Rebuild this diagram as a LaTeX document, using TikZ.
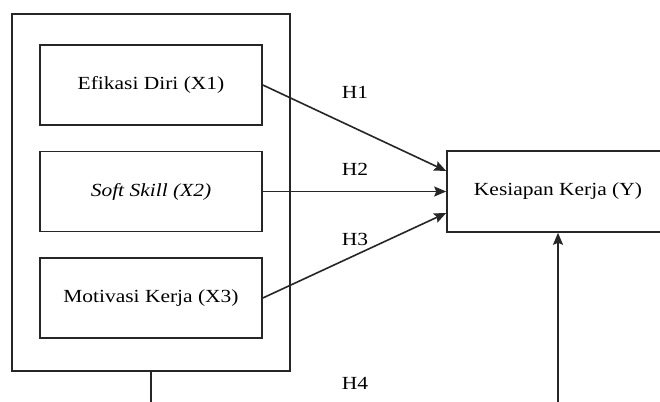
\documentclass[tikz,border=0pt]{standalone}
\usepackage{fontspec}
\setmainfont{Liberation Serif}
\usetikzlibrary{arrows.meta}
\tikzset{
  ln/.style={draw=black!85, line width=1.6pt},
  box/.style={ln, rectangle, minimum width=222pt, minimum height=80pt, inner sep=0pt, font=\fontsize{18.5}{20}\selectfont},
  lbl/.style={font=\fontsize{18.5}{20}\selectfont, inner sep=0pt},
  arr/.style={ln, -{Stealth[length=12pt,width=10pt,inset=2pt]}}
}
\newcommand{\widetxt}[1]{\scalebox{1.16}[1]{#1}}
\begin{document}
\begin{tikzpicture}[x=1pt,y=-1pt]
\clip (0,0) rectangle (660,401);
\fill[white] (0,0) rectangle (660,401);
\node[ln, rectangle, minimum width=278pt, minimum height=357pt, inner sep=0pt] (outer) at (151,192.5) {};
\node[box] (x1) at (151,85) {\widetxt{Efikasi Diri (X1)}};
\node[box] (x2) at (151,191.5) {\widetxt{\itshape Soft Skill (X2)}};
\node[box] (x3) at (151,298) {\widetxt{Motivasi Kerja (X3)}};
\node[box, minimum width=222pt, minimum height=81pt] (y) at (558,191.5) {\widetxt{Kesiapan Kerja (Y)}};
\coordinate (ob) at (151,410);
\coordinate (yb) at (558,410);
\draw[arr] (x1.east) -- ([yshift=20.5pt]y.west);
\draw[arr] (x2.east) -- (y.west);
\draw[arr] (x3.east) -- ([yshift=-21.5pt]y.west);
\draw[ln] (outer.south) -- (ob);
\draw[arr] (yb) -- (y.south);
\node[lbl] (h1) at (355,92) {\widetxt{H1}};
\node[lbl] (h2) at (355,169) {\widetxt{H2}};
\node[lbl] (h3) at (355,239) {\widetxt{H3}};
\node[lbl] (h4) at (355,383) {\widetxt{H4}};
\end{tikzpicture}
\end{document}
